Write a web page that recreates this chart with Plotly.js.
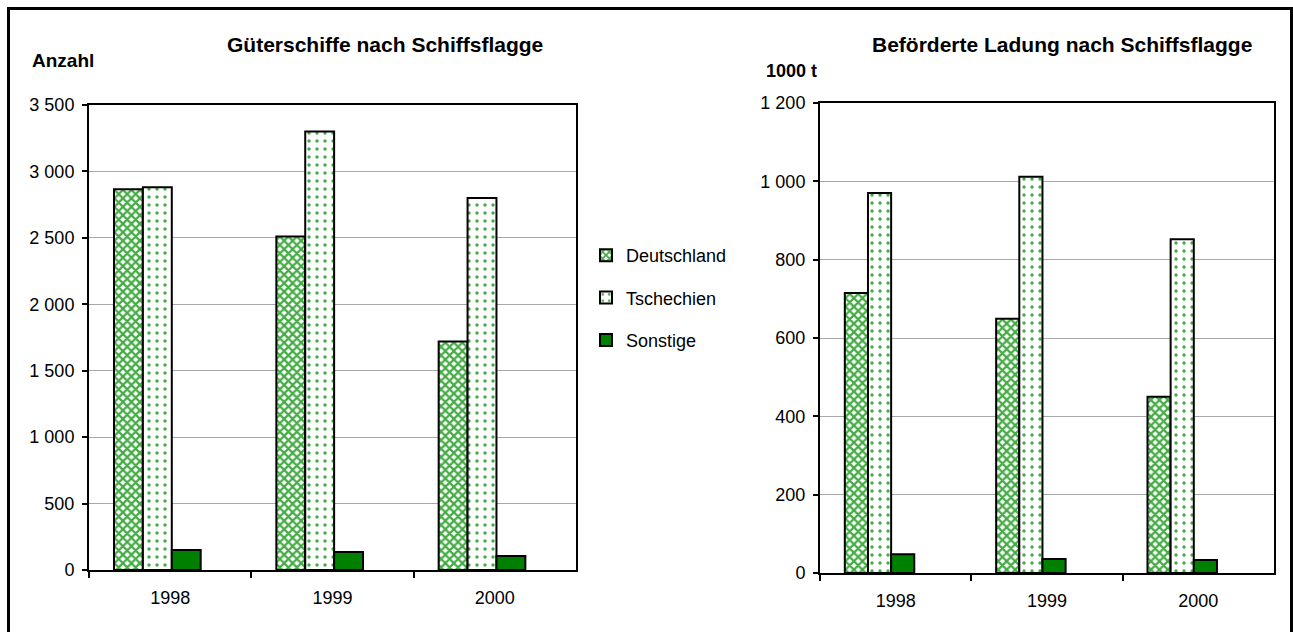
<!DOCTYPE html>
<html>
<head>
<meta charset="utf-8">
<script src="https://cdn.plot.ly/plotly-3.0.1.min.js"></script>
<style>
  html, body { margin: 0; padding: 0; background: #fff; }
  #chart { position: absolute; left: 0; top: 0; width: 1293px; height: 632px; }
  #frame { position: absolute; left: 7px; top: 7px; width: 1280px; height: 630px; border: 3px solid #000; pointer-events: none; }
</style>
</head>
<body>
<div id="chart"></div>
<div id="frame"></div>
<script>
// ---- data ----
const years = ['1998', '1999', '2000'];
const seriesNames = ['Deutschland', 'Tschechien', 'Sonstige'];
const shipsDeutschland = [2865, 2510, 1720];
const shipsTschechien = [2880, 3300, 2800];
const shipsSonstige = [150, 136, 106];
const cargoDeutschland = [715, 649, 450];
const cargoTschechien = [970, 1012, 852];
const cargoSonstige = [48, 36, 33];

const leftTitle = 'Güterschiffe nach Schiffsflagge';
const leftUnit = 'Anzahl';
const rightTitle = 'Beförderte Ladung nach Schiffsflagge';
const rightUnit = '1000 t';

// ---- styles ----
const FONT = 'Arial, "Liberation Sans", Helvetica, sans-serif';
const lightGreen = '#45ab45';
const darkGreen = '#008000';
const styles = [
  { fillcolor: '#ffffff', pattern: { shape: 'x', fgcolor: lightGreen, bgcolor: '#ffffff', size: 6, solidity: 0.6, fillmode: 'replace' } },
  { fillcolor: '#ffffff', pattern: { shape: '.', fgcolor: lightGreen, bgcolor: '#ffffff', size: 8, solidity: 0.14, fillmode: 'replace' } },
  { fillcolor: darkGreen, pattern: { shape: '' } }
];

function makeTraces(values, xa, ya, width, offsets, showLegend) {
  return values.map((vals, i) => ({
    type: 'bar',
    name: seriesNames[i],
    x: years,
    y: vals,
    xaxis: xa,
    yaxis: ya,
    width: width,
    offset: offsets[i],
    legendgroup: 'g' + i,
    showlegend: showLegend,
    hoverinfo: 'x+y+name',
    marker: {
      color: styles[i].fillcolor,
      pattern: styles[i].pattern,
      line: { color: '#000', width: 2 }
    }
  }));
}

const lw = 0.178;
const rw = 0.153;
const traces = [
  ...makeTraces([shipsDeutschland, shipsTschechien, shipsSonstige], 'x', 'y', lw, [-0.346, -0.346 + lw, -0.346 + 2 * lw], true),
  ...makeTraces([cargoDeutschland, cargoTschechien, cargoSonstige], 'x2', 'y2', rw, [-0.336, -0.336 + rw, -0.336 + 2 * rw], false)
];

const W = 1293, H = 632;
const px = v => v / W;
const py = v => 1 - v / H;

const xCommon = {
  type: 'category',
  categoryorder: 'array',
  categoryarray: years,
  range: [-0.5, 2.5],
  showline: true, linecolor: '#000', linewidth: 2, mirror: true,
  ticks: 'outside', tickson: 'boundaries', ticklen: 6, tickwidth: 2, tickcolor: '#000',
  ticklabelstandoff: 10,
  showgrid: false, zeroline: false,
  tickfont: { family: FONT, size: 18, color: '#000' },
  fixedrange: true
};
const yCommon = {
  showline: true, linecolor: '#000', linewidth: 2, mirror: true,
  ticks: 'outside', ticklen: 5, tickwidth: 2, tickcolor: '#000',
  ticklabelstandoff: 4,
  showgrid: true, gridcolor: '#a8a8a8', gridwidth: 1,
  zeroline: false,
  separatethousands: true,
  tickformat: ',d',
  tickfont: { family: FONT, size: 18, color: '#000' },
  fixedrange: true
};

const layout = {
  width: W, height: H,
  margin: { l: 0, r: 0, t: 0, b: 0 },
  paper_bgcolor: '#fff', plot_bgcolor: '#fff',
  separators: ', ',
  barmode: 'overlay',
  font: { family: FONT, color: '#000' },
  xaxis: Object.assign({}, xCommon, { domain: [px(89), px(576)], anchor: 'y' }),
  yaxis: Object.assign({}, yCommon, { domain: [py(570), py(105)], anchor: 'x', range: [0, 3500], dtick: 500 }),
  xaxis2: Object.assign({}, xCommon, { domain: [px(820), px(1274)], anchor: 'y2' }),
  yaxis2: Object.assign({}, yCommon, { domain: [py(573), py(103)], anchor: 'x2', range: [0, 1200], dtick: 200 }),
  showlegend: true,
  legend: {
    x: px(586), y: py(298), xanchor: 'left', yanchor: 'middle',
    font: { family: FONT, size: 18, color: '#000' },
    bgcolor: 'rgba(0,0,0,0)', borderwidth: 0,
    traceorder: 'grouped', tracegroupgap: 16,
    itemclick: false, itemdoubleclick: false
  },
  annotations: [
    { text: '<b>' + leftTitle + '</b>', xref: 'paper', yref: 'paper', x: px(385), y: py(44), xanchor: 'center', yanchor: 'middle', showarrow: false, font: { family: FONT, size: 21, color: '#000' } },
    { text: '<b>' + leftUnit + '</b>', xref: 'paper', yref: 'paper', x: px(30), y: py(60), xanchor: 'left', yanchor: 'middle', showarrow: false, font: { family: FONT, size: 19, color: '#000' } },
    { text: '<b>' + rightTitle + '</b>', xref: 'paper', yref: 'paper', x: px(1062), y: py(44), xanchor: 'center', yanchor: 'middle', showarrow: false, font: { family: FONT, size: 21, color: '#000' } },
    { text: '<b>' + rightUnit + '</b>', xref: 'paper', yref: 'paper', x: px(764), y: py(71), xanchor: 'left', yanchor: 'middle', showarrow: false, font: { family: FONT, size: 18, color: '#000' } }
  ]
};

Plotly.newPlot('chart', traces, layout, { displayModeBar: false, staticPlot: false });
</script>
</body>
</html>
